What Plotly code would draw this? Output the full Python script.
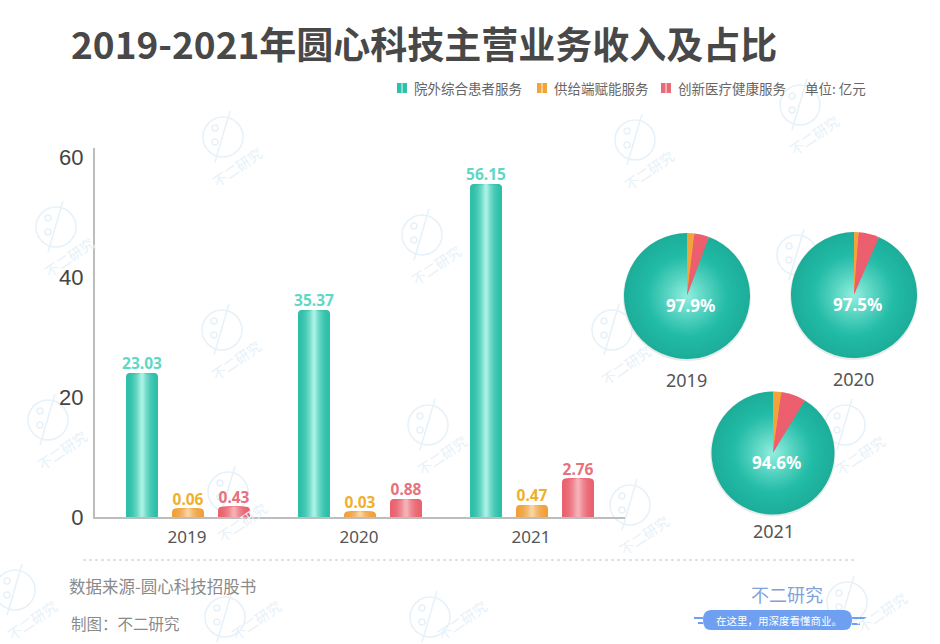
import plotly.graph_objects as go

W = 940
H = 644

years = ["2019", "2020", "2021"]
series_names = ["院外综合患者服务", "供给端赋能服务", "创新医疗健康服务"]

# printed values
patient_values = [23.03, 35.37, 56.15]
supply_values = [0.06, 0.03, 0.47]
innovation_values = [0.43, 0.88, 2.76]

# the bars in the picture are not to scale for the small series, these are the drawn heights
patient_heights = [24.0, 34.5, 55.5]
supply_heights = [1.4, 0.9, 2.0]
innovation_heights = [1.7, 3.0, 6.4]

# slice sizes as drawn, percent of the circle
pie_orange = [1.9, 1.2, 2.2]
pie_red = [3.8, 5.3, 6.5]
pie_teal = [94.3, 93.5, 91.3]
pie_labels = ["97.9%", "97.5%", "94.6%"]

y_ticks = [0, 20, 40, 60]

ORANGE = "#f2a33a"
RED = "#ec5f6e"
FONT = "Noto Sans CJK SC"
TEXT = "#555555"
MARK = "#e6f1f9"


def px(x):
    return x / W


def py(y):
    return 1 - y / H


def mix(c1, c2, t):
    a = [int(c1[i:i + 2], 16) for i in (1, 3, 5)]
    b = [int(c2[i:i + 2], 16) for i in (1, 3, 5)]
    return "rgb(%d,%d,%d)" % tuple(round(a[i] + (b[i] - a[i]) * t) for i in range(3))


def label(text, x, y, size, color=TEXT, anchor="center", bold=False, font=FONT, angle=0):
    if bold:
        text = "<b>" + text + "</b>"
    fig.add_annotation(text=text, x=px(x), y=py(y), xref="paper", yref="paper", showarrow=False,
                       xanchor=anchor, yanchor="middle", textangle=angle,
                       font=dict(family=font, size=size, color=color))


fig = go.Figure()

# bars, gradient faked with narrower and lighter bars on top of each other
groups = [0, 1, 2]
offset = 46 / 172
bar_width = 32 / 172
nudge = 1 / 172
layers = 12
bar_styles = [
    (-offset, patient_heights, patient_values, "#2fbfa9", "#a6f1e3", "#5ed8c4"),
    (0, supply_heights, supply_values, "#f0a13c", "#f8d3a0", "#efb02e"),
    (offset, innovation_heights, innovation_values, "#e9636f", "#f5b0b6", "#e8717c"),
]
for shift, heights, values, edge, center, text_color in bar_styles:
    xs = [g + shift + nudge for g in groups]
    for i in range(layers):
        t = i / (layers - 1)
        fig.add_trace(go.Bar(x=xs, y=heights, width=bar_width * (1 - 0.9 * t),
                             marker=dict(color=mix(edge, center, t ** 2), line=dict(width=0)),
                             showlegend=False, hoverinfo="skip"))
    fig.add_trace(go.Scatter(x=xs, y=heights, mode="text", text=["<b>%.2f</b>" % v for v in values],
                             textposition="top center", showlegend=False, hoverinfo="skip",
                             textfont=dict(family="Noto Sans", size=15.5, color=text_color)))

# pies, same trick with shrinking circles for the glow in the middle
pie_pos = [(687, 296, 63), (854, 295, 63), (773, 453, 61.5)]
pie_layers = 30
for n, (cx, cy, r) in enumerate(pie_pos):
    # soft shadow under the circle
    fig.add_trace(go.Pie(values=[1], sort=False, marker=dict(colors=["#e8eaea"], line=dict(width=0)),
                         domain=dict(x=[px(cx - r - 1), px(cx + r + 1)], y=[py(cy + r + 2), py(cy - r)]),
                         textinfo="none", showlegend=False, hoverinfo="skip"))
    for i in range(pie_layers):
        t = i / (pie_layers - 1)
        rr = r * (1 - 0.95 * t)
        if t < 0.35:
            teal = mix("#1dae9a", "#22bba6", t / 0.35)
        else:
            teal = mix("#22bba6", "#8cecdc", ((t - 0.35) / 0.65) ** 1.1)
        fig.add_trace(go.Pie(values=[pie_orange[n], pie_red[n], pie_teal[n]], sort=False,
                             direction="clockwise", rotation=0,
                             marker=dict(colors=[ORANGE, RED, teal], line=dict(width=0)),
                             domain=dict(x=[px(cx - rr), px(cx + rr)], y=[py(cy + rr), py(cy - rr)]),
                             textinfo="none", showlegend=False, hoverinfo="skip"))
    label("<b>%s</b>" % pie_labels[n], cx + 3, cy + 9, 17, "#ffffff", font="Noto Sans")
    label(years[n], cx - 1 if n < 2 else cx, cy + (84 if n < 2 else 78), 18, font="Noto Sans")

fig.update_layout(
    width=W, height=H, margin=dict(l=0, r=0, t=0, b=0, autoexpand=False),
    paper_bgcolor="white", plot_bgcolor="rgba(0,0,0,0)",
    barmode="overlay", barcornerradius=4,
    xaxis=dict(domain=[px(95), px(625)], range=[(95 - 187) / 172, (625 - 187) / 172],
               tickmode="array", tickvals=groups, ticktext=years, ticks="", showgrid=False, zeroline=False,
               showline=True, linecolor="#bdbdbd", linewidth=2, anchor="y",
               tickfont=dict(family="Noto Sans", size=17, color=TEXT), ticklabelstandoff=4),
    yaxis=dict(domain=[py(517), py(148)], range=[0, 61.5], tickmode="array", tickvals=y_ticks,
               ticks="", showgrid=False, zeroline=False, showline=True, linecolor="#bdbdbd", linewidth=2,
               anchor="x", tickfont=dict(family="Liberation Sans", size=22, color="#444444"),
               ticklabelstandoff=5),
)

# title and legend row
label("2019-2021年圆心科技主营业务收入及占比", 69, 43, 37, "#484848", "left", bold=True)
legend_items = [(397, "#2fc0aa", series_names[0]), (537, ORANGE, series_names[1]), (661, "#ea6b78", series_names[2])]
shapes = []
for x, color, name in legend_items:
    shapes.append(dict(type="rect", xref="paper", yref="paper", x0=px(x), x1=px(x + 10), y0=py(93), y1=py(83),
                       fillcolor=color, line_width=0))
    shapes.append(dict(type="rect", xref="paper", yref="paper", x0=px(x + 4), x1=px(x + 6), y0=py(93), y1=py(83),
                       fillcolor="#ffffff", opacity=0.45, line_width=0))
    label(name, x + 15, 88, 13.5, "#666666", "left")
label("单位: 亿元", 803, 88, 13.5, "#666666", "left")

# footer
shapes.append(dict(type="line", xref="paper", yref="paper", x0=px(83), x1=px(856), y0=py(560), y1=py(560),
                   line=dict(color="#c4c4c4", width=1, dash="dot")))
label("数据来源-圆心科技招股书", 67, 586, 16.5, "#8a8a8a", "left")
label("制图：不二研究", 69, 623, 15.5, "#8a8a8a", "left")
label("不二研究", 787, 594, 18, "#7fa3d8")
x0, x1, y0, y1 = px(703), px(852), py(630), py(610)
dx, dy = px(8), 10 / H
shapes.append(dict(type="path", xref="paper", yref="paper", fillcolor="#6e9ff0", line_width=0,
                   path=f"M {x0 + dx} {y0} L {x1 - dx} {y0} Q {x1} {y0} {x1} {y0 + dy} Q {x1} {y1} {x1 - dx} {y1} "
                        f"L {x0 + dx} {y1} Q {x0} {y1} {x0} {y0 + dy} Q {x0} {y0} {x0 + dx} {y0} Z"))
for a, b, y in [(694, 703, 618), (698, 703, 623), (852, 866, 618), (852, 860, 624)]:
    shapes.append(dict(type="line", xref="paper", yref="paper", x0=px(a), x1=px(b), y0=py(y), y1=py(y),
                       line=dict(color="#6e9ff0", width=2)))
label("在这里，用深度看懂商业。", 779, 620, 10.5, "#ffffff")

# watermark logos behind everything: logo x, logo y, text x, text y (None where the pies hide the text)
marks = [(223, 137, 237, 167), (56, 227, 69, 257), (422, 235, 436, 265), (222, 330, 236, 360),
         (48, 420, 62, 450), (428, 425, 442, 455), (228, 492, 242, 522), (635, 140, 649, 170),
         (800, 105, 814, 135), (797, 255, None, None), (612, 330, 626, 365), (845, 425, 860, 455),
         (630, 505, 644, 535), (15, 590, 32, 620), (225, 617, 256, 620), (430, 617, 462, 620),
         (847, 602, 882, 612)]
for mx, my, tx, ty in marks:
    shapes.append(dict(type="circle", xref="paper", yref="paper", layer="below",
                       x0=px(mx - 20), x1=px(mx + 20), y0=py(my + 20), y1=py(my - 20),
                       line=dict(color=MARK, width=1.5)))
    shapes.append(dict(type="line", xref="paper", yref="paper", layer="below",
                       x0=px(mx + 7), x1=px(mx - 8), y0=py(my - 26), y1=py(my + 25),
                       line=dict(color=MARK, width=1.5)))
    for d in (-9, 5):
        shapes.append(dict(type="circle", xref="paper", yref="paper", layer="below",
                           x0=px(mx - 11), x1=px(mx - 5), y0=py(my + d + 3), y1=py(my + d - 3),
                           line=dict(color=MARK, width=1.5)))
    if tx is not None:
        label("不二研究", tx, ty, 14, MARK, angle=-35)
fig.update_layout(shapes=shapes)

fig.write_html("out.html", config=dict(displayModeBar=False), post_script="document.body.style.margin='0'")
